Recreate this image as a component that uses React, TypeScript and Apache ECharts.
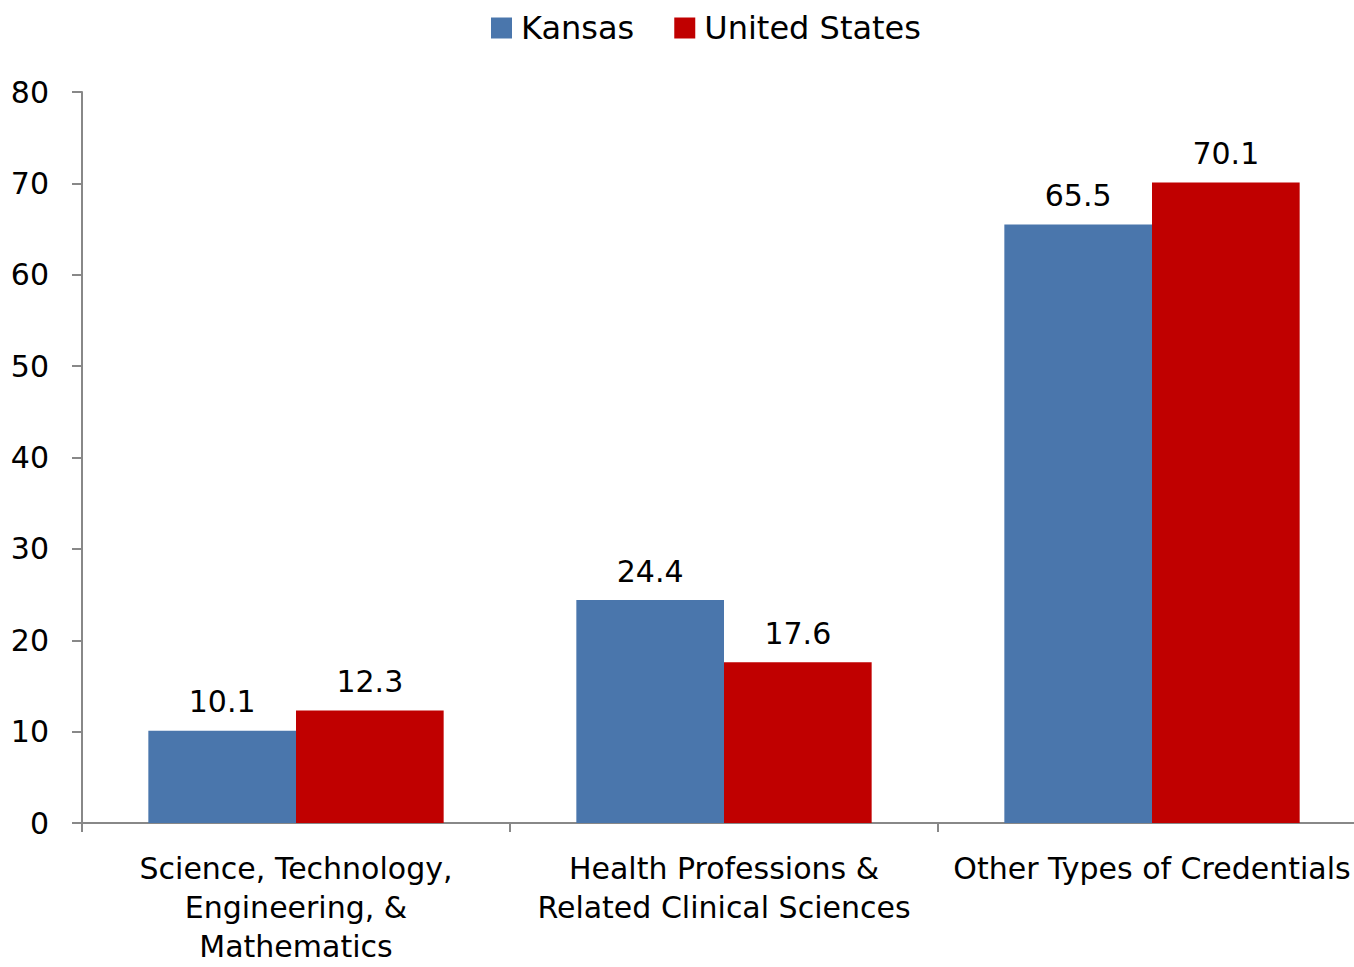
import React, { useEffect, useRef } from "react";
import * as echarts from "echarts";

const categories = [
  "Science, Technology,\nEngineering, &\nMathematics",
  "Health Professions &\nRelated Clinical Sciences",
  "Other Types of Credentials",
];
const kansas = [10.1, 24.4, 65.5];
const unitedStates = [12.3, 17.6, 70.1];
const seriesNames = ["Kansas", "United States"];

const FONT = "'DejaVu Sans', Tahoma, sans-serif";

export default function App() {
  const ref = useRef<HTMLDivElement>(null);
  useEffect(() => {
    if (!ref.current) return;
    const chart = echarts.init(ref.current, null, { renderer: "svg" });
    const labelStyle = {
      show: true,
      position: "top" as const,
      distance: 14,
      fontSize: 30,
      color: "#000",
      fontFamily: FONT,
    };
    chart.setOption({
      animation: false,
      textStyle: { fontFamily: FONT },
      legend: {
        top: 7,
        left: 486,
        itemWidth: 21,
        itemHeight: 21,
        itemGap: 40,
        icon: "rect",
        textStyle: { fontSize: 32, color: "#000", fontFamily: FONT, padding: [0, 0, 0, 4] },
        data: seriesNames,
      },
      grid: {
        left: 82,
        top: 92,
        width: 1284,
        height: 731,
        containLabel: false,
        outerBoundsMode: "none",
      },
      xAxis: {
        type: "category",
        data: categories,
        axisLine: { lineStyle: { color: "#888", width: 2 } },
        axisTick: { show: true, length: 9, lineStyle: { color: "#888", width: 2 } },
        axisLabel: {
          fontSize: 30,
          color: "#000",
          lineHeight: 39,
          margin: 26,
          fontFamily: FONT,
          interval: 0,
        },
      },
      yAxis: {
        type: "value",
        min: 0,
        max: 80,
        interval: 10,
        splitLine: { show: false },
        axisLine: { show: true, lineStyle: { color: "#888", width: 2 } },
        axisTick: { show: true, length: 10, lineStyle: { color: "#888", width: 2 } },
        axisLabel: { fontSize: 30, color: "#000", margin: 33, fontFamily: FONT },
      },
      series: [
        {
          name: seriesNames[0],
          type: "bar",
          data: kansas,
          barGap: "0%",
          barCategoryGap: "31%",
          itemStyle: { color: "#4A76AC" },
          label: labelStyle,
        },
        {
          name: seriesNames[1],
          type: "bar",
          data: unitedStates,
          barGap: "0%",
          barCategoryGap: "31%",
          itemStyle: { color: "#C00000" },
          label: labelStyle,
        },
      ],
    });
    return () => chart.dispose();
  }, []);
  return (
    <div
      ref={ref}
      style={{ position: "fixed", left: 0, top: 0, width: 1354, height: 967, background: "#fff" }}
    />
  );
}
